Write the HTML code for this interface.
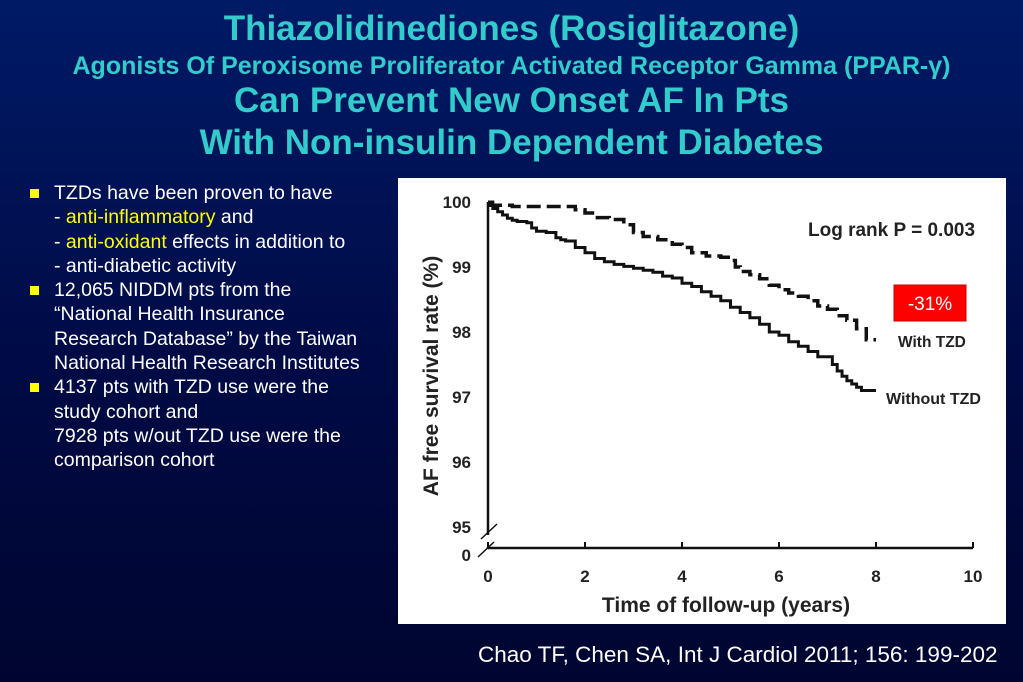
<!DOCTYPE html>
<html><head><meta charset="utf-8"><style>
body{margin:0;width:1023px;height:682px;overflow:hidden;background:linear-gradient(#001a66 0%,#000a44 55%,#000530 100%);font-family:"Liberation Sans",sans-serif;position:relative}
.t{position:absolute;left:0;width:1023px;text-align:center;color:#33cccc;font-weight:bold;white-space:nowrap}
.b{position:absolute;left:30px;top:181px;color:#fff;font-size:19.5px;line-height:24.3px;white-space:nowrap}
.b .i{padding-left:24px;position:relative}
.b .sq{position:absolute;left:0;top:8px;width:9px;height:9px;background:#ffff00}
.y{color:#ffff00}
</style></head><body>
<div class="t" style="top:9px;font-size:35px">Thiazolidinediones (Rosiglitazone)</div>
<div class="t" style="top:52px;font-size:25px">Agonists Of Peroxisome Proliferator Activated Receptor Gamma (PPAR-γ)</div>
<div class="t" style="top:81px;font-size:35px">Can Prevent New Onset AF In Pts</div>
<div class="t" style="top:123px;font-size:35px">With Non-insulin Dependent Diabetes</div>
<div class="b">
<div class="i"><span class="sq"></span>TZDs have been proven to have<br>- <span class="y">anti-inflammatory</span> and<br>- <span class="y">anti-oxidant</span> effects in addition to<br>- anti-diabetic activity</div>
<div class="i"><span class="sq"></span>12,065 NIDDM pts from the<br>“National Health Insurance<br>Research Database” by the Taiwan<br>National Health Research Institutes</div>
<div class="i"><span class="sq"></span>4137 pts with TZD use were the<br>study cohort and<br>7928 pts w/out TZD use were the<br>comparison cohort</div>
</div>
<svg style="position:absolute;left:398px;top:178px" width="608" height="446" viewBox="398 178 608 446" font-family="Liberation Sans,sans-serif" font-weight="bold">
<rect x="398" y="178" width="608" height="446" fill="#fff"/>
<g id="g"></g>
<text x="808" y="236" font-size="19" fill="#222">Log rank P = 0.003</text>
<rect x="894" y="285" width="72" height="36" fill="#ff0000" stroke="#c00"/>
<text x="930" y="310" font-size="19" font-weight="normal" fill="#fff" text-anchor="middle">-31%</text>
<text x="898" y="347" font-size="15.5" fill="#222">With TZD</text>
<text x="886" y="404" font-size="16" fill="#222">Without TZD</text>
<text x="726" y="612" font-size="21" fill="#222" text-anchor="middle">Time of follow-up (years)</text>
<text transform="translate(438,376) rotate(-90)" font-size="21" fill="#222" text-anchor="middle">AF free survival rate (%)</text>
</svg>
<div style="position:absolute;left:478px;top:642px;color:#fff;font-size:22.5px;white-space:nowrap">Chao TF, Chen SA, Int J Cardiol 2011; 156: 199-202</div>
<script>
const xTicks=[0,2,4,6,8,10];
const yTicks=[100,99,98,97,96,95];
const withoutT=[0,0.1,0.2,0.3,0.4,0.5,0.6,0.7,0.8,0.9,1,1.2,1.4,1.5,1.6,1.8,2,2.2,2.4,2.6,2.8,3,3.2,3.4,3.6,3.8,4,4.2,4.4,4.6,4.8,5,5.2,5.4,5.6,5.8,6,6.2,6.4,6.6,6.8,7,7.1,7.2,7.3,7.4,7.5,7.6,7.7,8];
const withoutV=[100,99.9,99.85,99.8,99.75,99.72,99.7,99.7,99.68,99.6,99.55,99.53,99.45,99.42,99.4,99.3,99.22,99.13,99.08,99.04,99.01,98.98,98.95,98.92,98.86,98.83,98.75,98.7,98.62,98.55,98.48,98.38,98.3,98.22,98.12,98.0,97.95,97.85,97.78,97.7,97.62,97.62,97.5,97.4,97.32,97.25,97.2,97.15,97.1,97.1];
const withT=[0,0.5,1,1.5,1.8,2,2.2,2.5,2.8,3,3.2,3.5,3.8,4,4.2,4.5,4.8,5,5.1,5.2,5.4,5.6,5.8,6,6.2,6.4,6.6,6.8,7,7.2,7.4,7.6,7.8,8];
const withV=[99.95,99.93,99.93,99.93,99.88,99.83,99.76,99.73,99.65,99.53,99.47,99.42,99.35,99.3,99.22,99.17,99.15,99.1,99.0,98.93,98.88,98.82,98.72,98.65,98.6,98.55,98.48,98.4,98.35,98.25,98.18,98.05,97.88,97.88];
const X=t=>488+t*48.5, Y=v=>202+(100-v)*65;
const g=document.getElementById('g'),ns='http://www.w3.org/2000/svg';
function el(n,a){const e=document.createElementNS(ns,n);for(const k in a)e.setAttribute(k,a[k]);g.appendChild(e);return e;}
let a=el('path',{d:`M${X(0)} ${Y(100)}V${Y(95)+8}M${X(0)} ${Y(95)+22}V548H${X(10)}`,stroke:'#111','stroke-width':2.5,fill:'none'});


el('path',{d:`M481 ${Y(95)+12}L497 ${Y(95)-3}M478 557L494 542`,stroke:'#111','stroke-width':1.5});
xTicks.forEach(t=>{el('line',{x1:X(t),x2:X(t),y1:548,y2:542,stroke:'#111','stroke-width':2});
const tx=el('text',{x:X(t),y:582,'font-size':17,'text-anchor':'middle',fill:'#222'});tx.textContent=t;

});
yTicks.forEach(v=>{const tx=el('text',{x:471,y:Y(v)+6,'font-size':17,'text-anchor':'end',fill:'#222'});tx.textContent=v;

});
const z0=el('text',{x:471,y:561,'font-size':17,'text-anchor':'end',fill:'#222'});z0.textContent='0';
function step(T,V){let d=`M${X(T[0])} ${Y(V[0])}`;for(let i=1;i<T.length;i++)d+=`H${X(T[i])}V${Y(V[i])}`;return d;}
const s1=el('path',{d:step(withoutT,withoutV),stroke:'#111','stroke-width':3,fill:'none'});


const s2=el('path',{d:step(withT,withV),stroke:'#111','stroke-width':3.5,fill:'none','stroke-dasharray':'14 6'});


</script>
</body></html>
